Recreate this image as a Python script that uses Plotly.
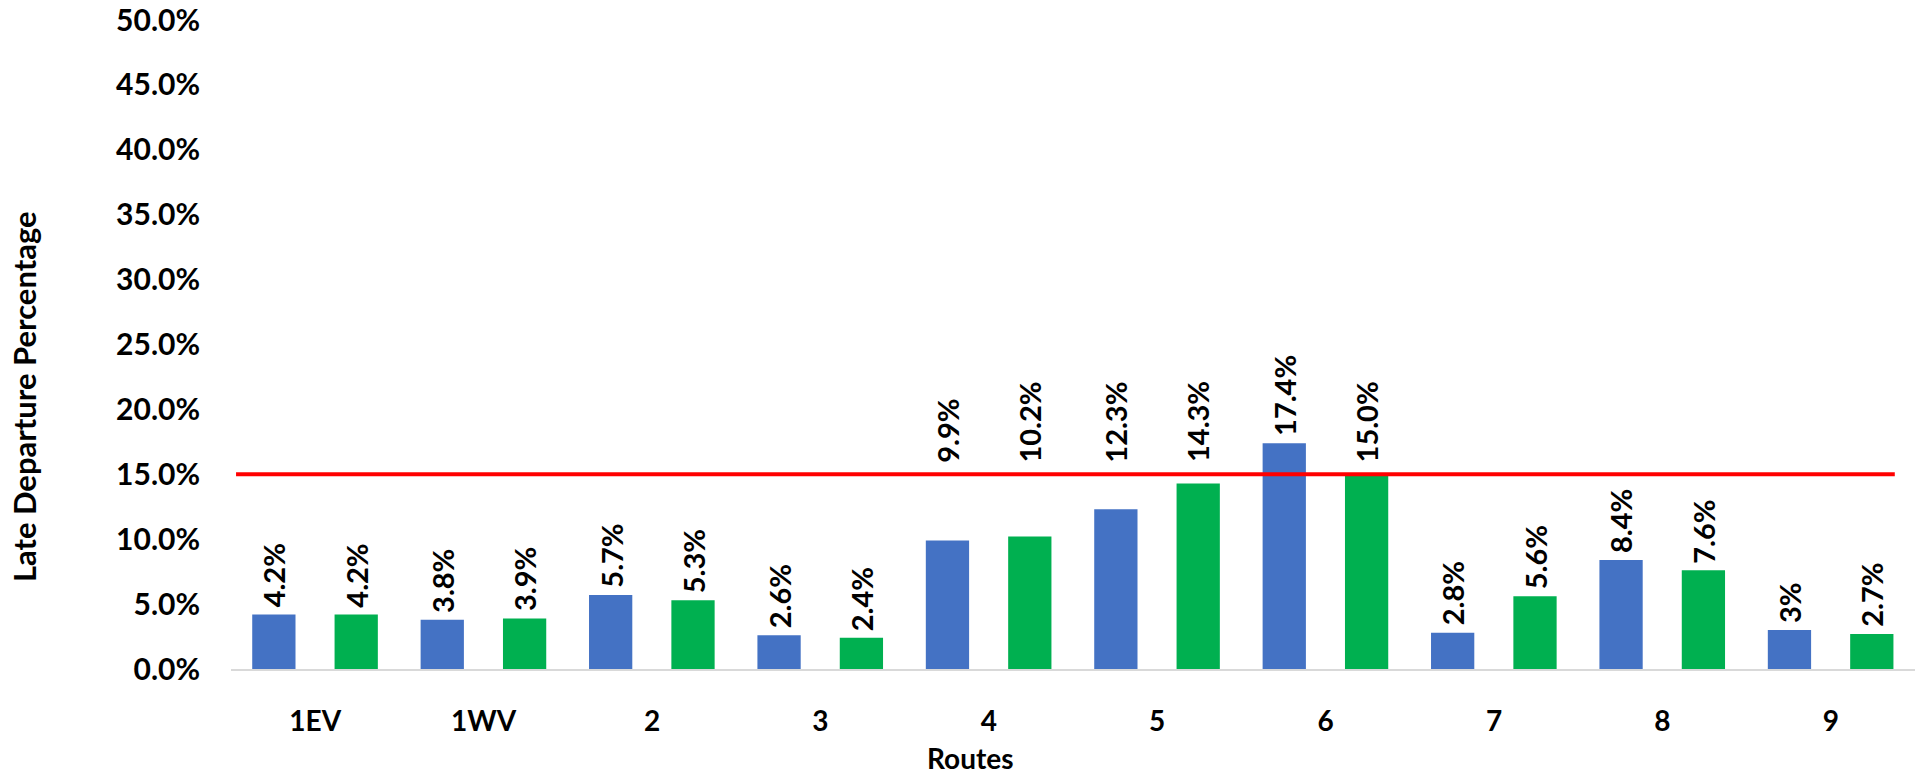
import plotly.graph_objects as go

# Late departure share per route, two service periods
routes = ["1EV", "1WV", "2", "3", "4", "5", "6", "7", "8", "9"]
series_a = [0.042, 0.038, 0.057, 0.026, 0.099, 0.123, 0.174, 0.028, 0.084, 0.030]
series_b = [0.042, 0.039, 0.053, 0.024, 0.102, 0.143, 0.150, 0.056, 0.076, 0.027]
labels_a = ["4.2%", "3.8%", "5.7%", "2.6%", "9.9%", "12.3%", "17.4%", "2.8%", "8.4%", "3%"]
labels_b = ["4.2%", "3.9%", "5.3%", "2.4%", "10.2%", "14.3%", "15.0%", "5.6%", "7.6%", "2.7%"]
target = 0.15
y_ticks = [0.0, 0.05, 0.10, 0.15, 0.20, 0.25, 0.30, 0.35, 0.40, 0.45, 0.50]

BLUE = "#4472C4"
GREEN = "#00B050"
FONT = "Lato"
BAR_W = 0.257

fig = go.Figure()
fig.add_trace(go.Bar(x=routes, y=series_a, marker=dict(color=BLUE, line=dict(width=0)),
                     width=BAR_W, offset=-0.374, showlegend=False, hoverinfo="skip"))
fig.add_trace(go.Bar(x=routes, y=series_b, marker=dict(color=GREEN, line=dict(width=0)),
                     width=BAR_W, offset=0.115, showlegend=False, hoverinfo="skip"))

# target line
fig.add_shape(type="line", xref="x", yref="y", x0=-0.47, x1=9.38, y0=target, y1=target,
              line=dict(color="#FF0000", width=4), layer="above")

# value labels; labels that would cross the target line sit above it
annotations = []
for i in range(len(routes)):
    for vals, texts, dx in ((series_a, labels_a, -0.2455), (series_b, labels_b, 0.2435)):
        v = vals[i]
        lifted = 0.09 <= v <= target
        annotations.append(dict(
            x=i + dx, y=target if lifted else v, xref="x", yref="y",
            text=texts[i], textangle=-90, showarrow=False,
            xanchor="center", yanchor="bottom", yshift=10 if lifted else 5,
            font=dict(family=FONT, size=29, color="#000000", weight="bold"),
        ))

annotations.append(dict(
    text="Late Departure Percentage", textangle=-90, showarrow=False,
    xref="paper", yref="paper", x=(24 - 231) / 1685, y=(669 - 397) / 649,
    xanchor="center", yanchor="middle",
    font=dict(family=FONT, size=31, color="#000000", weight="bold"),
))
annotations.append(dict(
    text="Routes", showarrow=False,
    xref="paper", yref="paper", x=(971 - 231) / 1685, y=(669 - 758) / 649,
    xanchor="center", yanchor="middle",
    font=dict(family=FONT, size=28, color="#000000", weight="bold"),
))

fig.update_layout(
    width=1915, height=774,
    margin=dict(l=231, r=0, t=20, b=105),
    paper_bgcolor="white", plot_bgcolor="white",
    barmode="overlay",
    annotations=annotations,
    xaxis=dict(
        type="category", range=[-0.5, 9.5],
        showgrid=False, zeroline=False,
        showline=True, linecolor="#D9D9D9", linewidth=2,
        ticks="", ticklabelstandoff=26,
        tickfont=dict(family=FONT, size=28, color="#000000", weight="bold"),
    ),
    yaxis=dict(
        range=[0, 0.5], tickvals=y_ticks, tickformat=".1%",
        showgrid=False, zeroline=False, showline=False,
        ticks="", ticklabelstandoff=30,
        tickfont=dict(family=FONT, size=30, color="#000000", weight="bold"),
    ),
)

fig.write_html("out.html")
